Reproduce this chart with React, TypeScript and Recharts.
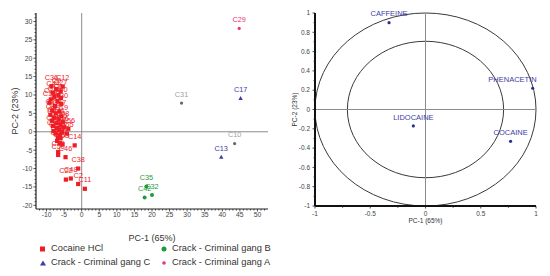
import React from 'react'
import { ScatterChart, Scatter, XAxis, YAxis, ReferenceLine, ReferenceArea } from 'recharts'

const FONT = '"Liberation Sans", Arial, sans-serif'

type Pt = { id: string; pc1: number; pc2: number }

// PCA scores (left panel)
const cocaineHcl: Pt[] = [
  { id: 'C36', pc1: -8.6, pc2: 12.4 }, { id: 'C12', pc1: -5.4, pc2: 12.3 },
  { id: 'C9', pc1: -7.2, pc2: 11.6 }, { id: 'C27', pc1: -6.0, pc2: 11.0 },
  { id: 'C44', pc1: -8.2, pc2: 10.6 }, { id: 'C5', pc1: -6.6, pc2: 10.0 },
  { id: 'C18', pc1: -7.8, pc2: 9.5 }, { id: 'C40', pc1: -5.9, pc2: 9.2 },
  { id: 'C23', pc1: -8.8, pc2: 8.8 }, { id: 'C7', pc1: -6.9, pc2: 8.4 },
  { id: 'C15', pc1: -9.2, pc2: 7.9 }, { id: 'C30', pc1: -5.8, pc2: 7.6 },
  { id: 'C3', pc1: -7.6, pc2: 7.0 }, { id: 'C21', pc1: -8.4, pc2: 5.8 },
  { id: 'C47', pc1: -6.3, pc2: 5.5 }, { id: 'C26', pc1: -7.4, pc2: 5.0 },
  { id: 'C8', pc1: -8.9, pc2: 4.6 }, { id: 'C19', pc1: -5.8, pc2: 4.2 },
  { id: 'C33', pc1: -7.9, pc2: 3.8 }, { id: 'C41', pc1: -6.6, pc2: 3.4 },
  { id: 'C4', pc1: -8.5, pc2: 3.0 }, { id: 'C28', pc1: -5.4, pc2: 2.7 },
  { id: 'C16', pc1: -7.2, pc2: 2.3 }, { id: 'C45', pc1: -6.0, pc2: 1.9 },
  { id: 'C24', pc1: -8.2, pc2: 1.6 }, { id: 'C6', pc1: -5.0, pc2: 1.2 },
  { id: 'C37', pc1: -7.0, pc2: 1.0 }, { id: 'C20', pc1: -6.4, pc2: 0.5 },
  { id: 'C39', pc1: -8.0, pc2: 0.2 }, { id: 'C1', pc1: -5.6, pc2: -0.1 },
  { id: 'C25', pc1: -7.4, pc2: -0.5 }, { id: 'C43', pc1: -6.2, pc2: -0.9 },
  { id: 'C55', pc1: -4.2, pc2: -0.5 }, { id: 'C56', pc1: -3.8, pc2: 0.8 },
  { id: 'C34', pc1: -6.8, pc2: -1.6 }, { id: 'C54', pc1: -6.0, pc2: -1.8 },
  { id: 'C52', pc1: -7.0, pc2: -2.5 }, { id: 'C53', pc1: -5.5, pc2: -3.4 },
  { id: 'C51', pc1: -6.2, pc2: -3.1 }, { id: 'C14', pc1: -2.0, pc2: -3.7 },
  { id: 'C49', pc1: -6.7, pc2: -5.5 }, { id: 'C50', pc1: -6.7, pc2: -6.3 },
  { id: 'C46', pc1: -4.6, pc2: -6.9 }, { id: 'C38', pc1: -1.0, pc2: -10.0 },
  { id: 'C22', pc1: -4.5, pc2: -13.0 }, { id: 'C48', pc1: -3.1, pc2: -12.7 },
  { id: 'C2', pc1: -1.0, pc2: -14.2 }, { id: 'C11', pc1: 0.9, pc2: -15.5 },
]
const gangA: Pt[] = [{ id: 'C29', pc1: 44.8, pc2: 28.1 }]
const gangB: Pt[] = [
  { id: 'C35', pc1: 18.4, pc2: -14.9 },
  { id: 'C32', pc1: 20.0, pc2: -17.2 },
  { id: 'C42', pc1: 17.9, pc2: -17.9 },
]
const gangC: Pt[] = [
  { id: 'C17', pc1: 45.2, pc2: 9.1 },
  { id: 'C13', pc1: 39.7, pc2: -6.9 },
]
const otherSamples: Pt[] = [
  { id: 'C31', pc1: 28.4, pc2: 7.8 },
  { id: 'C10', pc1: 43.5, pc2: -3.2 },
]

// loadings (right panel)
const loadings: Pt[] = [
  { id: 'CAFFEINE', pc1: -0.33, pc2: 0.9 },
  { id: 'PHENACETIN', pc1: 0.97, pc2: 0.22 },
  { id: 'LIDOCAINE', pc1: -0.11, pc2: -0.17 },
  { id: 'COCAINE', pc1: 0.77, pc2: -0.33 },
]
const circleRadii = [1, 0.707]

const scoreXTicks = [-10, -5, 0, 5, 10, 15, 20, 25, 30, 35, 40, 45, 50]
const scoreYTicks = [-20, -15, -10, -5, 0, 5, 10, 15, 20, 25, 30]
const loadXTicks = [-1, -0.5, 0, 0.5, 1]
const loadYTicks = [-1, -0.8, -0.6, -0.4, -0.2, 0, 0.2, 0.4, 0.6, 0.8, 1]

const RED = '#ee1c25'
const GREEN = '#1f9b3a'
const BLUE = '#3d3da6'
const PINK = '#e8347c'
const GREY = '#a0a0a0'

const steps = (from: number, to: number, step: number) => {
  const out: number[] = []
  for (let i = 0; from + i * step <= to + 1e-9; i++) out.push(Math.round((from + i * step) * 1000) / 1000)
  return out
}

function makeTick(majors: number[], side: 'bottom' | 'left', fs: number, majorLen: number, minorLen: number, gap: number) {
  return (props: any) => {
    const { x, y, payload } = props
    const v = payload.value
    const major = majors.some((m) => Math.abs(m - v) < 1e-6)
    const len = major ? majorLen : minorLen
    if (side === 'bottom') {
      return (
        <g>
          <line x1={x} x2={x} y1={y} y2={y + len} stroke="#222" strokeWidth={0.8} />
          {major && (
            <text x={x} y={y + gap} textAnchor="middle" fontSize={fs} fill="#444" fontFamily={FONT}>{v}</text>
          )}
        </g>
      )
    }
    return (
      <g>
        <line x1={x - len} x2={x} y1={y} y2={y} stroke="#222" strokeWidth={0.8} />
        {major && (
          <text x={x - gap} y={y} dy="0.35em" textAnchor="end" fontSize={fs} fill="#444" fontFamily={FONT}>{v}</text>
        )}
      </g>
    )
  }
}

function makeShape(kind: 'square' | 'circle' | 'triangle' | 'dot', color: string, labelColor: string, fs: number) {
  return (p: any) => {
    const { cx, cy } = p
    const id = p.payload?.id ?? p.id
    const edge = (p.payload?.pc1 ?? p.pc1) > 0.9 && fs > 7.4 && kind === 'dot'
    let mark
    if (kind === 'square') mark = <rect x={cx - 2.1} y={cy - 2.1} width={4.2} height={4.2} fill={color} />
    else if (kind === 'circle') mark = <circle cx={cx} cy={cy} r={2} fill={color} />
    else if (kind === 'triangle') mark = <polygon points={`${cx},${cy - 2.3} ${cx - 2.2},${cy + 1.7} ${cx + 2.2},${cy + 1.7}`} fill={color} />
    else mark = <circle cx={cx} cy={cy} r={1.6} fill={color} />
    return (
      <g>
        {mark}
        <text x={edge ? cx + 4 : cx} y={cy - 6.3} textAnchor={edge ? 'end' : 'middle'} fontSize={fs} fill={labelColor} fontFamily={FONT}>{id}</text>
      </g>
    )
  }
}

const legendItems = [
  { name: 'Cocaine HCl', kind: 'square', color: RED },
  { name: 'Crack - Criminal gang B', kind: 'circle', color: GREEN },
  { name: 'Crack - Criminal gang C', kind: 'triangle', color: BLUE },
  { name: 'Crack - Criminal gang A', kind: 'dot', color: PINK },
]

function LegendIcon({ kind, color }: { kind: string; color: string }) {
  return (
    <svg width={8} height={8} style={{ marginRight: 4 }}>
      {kind === 'square' && <rect x={1} y={1.5} width={5} height={5} fill={color} />}
      {kind === 'circle' && <circle cx={4} cy={4} r={2.5} fill={color} />}
      {kind === 'triangle' && <polygon points="4,1.5 1,6.5 7,6.5" fill={color} />}
      {kind === 'dot' && <circle cx={4} cy={4} r={1.8} fill={color} />}
    </svg>
  )
}

export default function App() {
  const scoreXAll = steps(-12, 52, 1)
  const scoreYAll = steps(-20, 32, 1)
  const loadXAll = steps(-1, 1, 0.25)
  const loadYAll = steps(-1, 1, 0.1)

  return (
    <div style={{ position: 'absolute', left: 0, top: 0, width: 550, height: 276, background: '#fff', fontFamily: FONT }}>
      <div style={{ position: 'absolute', left: 0, top: 0 }}>
        <ScatterChart width={280} height={245} margin={{ top: 13, right: 12, bottom: 0, left: 12 }}>
          <XAxis type="number" dataKey="pc1" domain={[-13, 53]} allowDataOverflow ticks={scoreXAll} interval={0}
            tickSize={0} tickMargin={0} height={36} stroke="#222" axisLine={{ stroke: '#222', strokeWidth: 1.2 }}
            tick={makeTick(scoreXTicks, 'bottom', 6.8, 2.5, 1.5, 7.6)}
            label={{ value: 'PC-1 (65%)', position: 'insideBottom', offset: 4, fontSize: 9, fill: '#333', fontFamily: FONT }} />
          <YAxis type="number" dataKey="pc2" domain={[-21, 32.3]} allowDataOverflow ticks={scoreYAll} interval={0}
            tickSize={0} tickMargin={0} width={24} stroke="#222" axisLine={{ stroke: '#222', strokeWidth: 1.2 }}
            tick={makeTick(scoreYTicks, 'left', 6.8, 2.5, 1.5, 3.6)}
            label={{ value: 'PC-2 (23%)', angle: -90, position: 'insideLeft', offset: 3, fontSize: 9, fill: '#333', fontFamily: FONT, style: { textAnchor: 'middle' } }} />
          <ReferenceLine x={0} stroke="#8c8c8c" strokeWidth={1} />
          <ReferenceLine y={0} stroke="#8c8c8c" strokeWidth={1} />
          <Scatter data={otherSamples} isAnimationActive={false} shape={makeShape('dot', '#666', GREY, 7.3)} />
          <Scatter data={gangC} isAnimationActive={false} shape={makeShape('triangle', BLUE, BLUE, 7.3)} />
          <Scatter data={gangA} isAnimationActive={false} shape={makeShape('dot', PINK, PINK, 7.3)} />
          <Scatter data={gangB} isAnimationActive={false} shape={makeShape('circle', GREEN, GREEN, 7.3)} />
          <Scatter data={cocaineHcl} isAnimationActive={false} shape={makeShape('square', RED, RED, 7.3)} />
        </ScatterChart>
      </div>

      <div style={{ position: 'absolute', left: 39, top: 242, width: 240, display: 'grid', gridTemplateColumns: '121px 119px', rowGap: 1, fontSize: 9.3, color: '#333', lineHeight: '13px' }}>
        {legendItems.map((it) => (
          <div key={it.name} style={{ display: 'flex', alignItems: 'center', whiteSpace: 'nowrap' }}>
            <LegendIcon kind={it.kind} color={it.color} />
            <span>{it.name}</span>
          </div>
        ))}
      </div>

      <div style={{ position: 'absolute', left: 280, top: 0 }}>
        <ScatterChart width={270} height={245} margin={{ top: 13, right: 14, bottom: 0, left: 8 }}>
          <XAxis type="number" dataKey="pc1" domain={[-1, 1]} ticks={loadXAll} interval={0}
            tickSize={0} tickMargin={0} height={39} axisLine={{ stroke: '#111', strokeWidth: 2 }}
            tick={makeTick(loadXTicks, 'bottom', 6.5, 2.5, 1.8, 9.6)}
            label={{ value: 'PC-1 (65%)', position: 'insideBottom', offset: 22.5, fontSize: 6.5, fill: '#333', fontFamily: FONT }} />
          <YAxis type="number" dataKey="pc2" domain={[-1, 1]} ticks={loadYAll} interval={0}
            tickSize={0} tickMargin={0} width={27} axisLine={{ stroke: '#111', strokeWidth: 2 }}
            tick={makeTick(loadYTicks, 'left', 6.5, 2.5, 1.5, 5)}
            label={{ value: 'PC-2 (23%)', angle: -90, position: 'insideLeft', offset: 7, fontSize: 6.5, fill: '#333', fontFamily: FONT, style: { textAnchor: 'middle' } }} />
          <ReferenceLine x={0} stroke="#8c8c8c" strokeWidth={1} />
          <ReferenceLine y={0} stroke="#8c8c8c" strokeWidth={1} />
          {circleRadii.map((r) => (
            <ReferenceArea key={r} x1={-r} x2={r} y1={-r} y2={r} ifOverflow="visible"
              shape={(p: any) => (
                <ellipse cx={p.x + p.width / 2} cy={p.y + p.height / 2} rx={Math.abs(p.width) / 2} ry={Math.abs(p.height) / 2}
                  fill="none" stroke="#3a3a3a" strokeWidth={1} />
              )} />
          ))}
          <Scatter data={loadings} isAnimationActive={false} shape={makeShape('dot', '#2b2f8f', BLUE, 7.5)} />
        </ScatterChart>
      </div>
    </div>
  )
}
